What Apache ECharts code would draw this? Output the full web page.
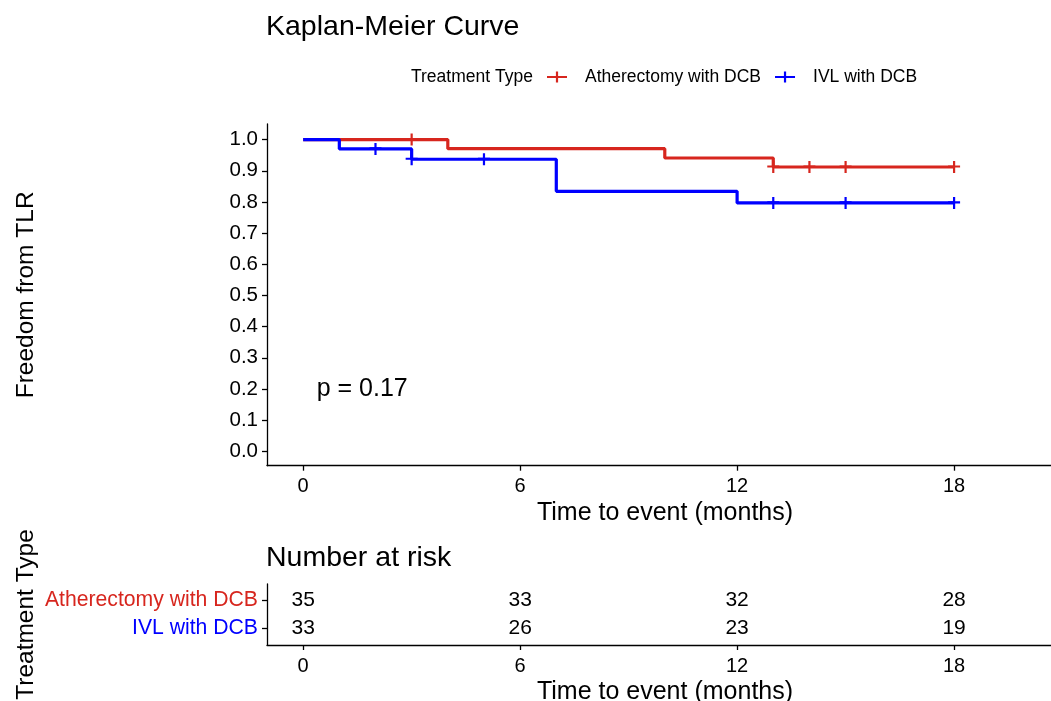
<!DOCTYPE html>
<html>
<head>
<meta charset="utf-8">
<script src="https://cdn.jsdelivr.net/npm/echarts@6/dist/echarts.min.js"></script>
<style>
html,body{margin:0;padding:0;background:#fff;}
#chart{width:1051px;height:701px;}
</style>
</head>
<body>
<div id="chart"></div>
<script>
// ---- data ----
const groupNames = ['Atherectomy with DCB', 'IVL with DCB'];
const groupColors = ['#d7261e', '#0000ff'];

const atherTimes = [0, 4, 10, 13, 18];
const atherSurv  = [1.0, 0.971, 0.941, 0.912, 0.912];
const atherCensorTimes = [3, 13, 14, 15, 18];
const atherCensorSurv  = [1.0, 0.912, 0.912, 0.912, 0.912];

const ivlTimes = [0, 1, 3, 7, 12, 18];
const ivlSurv  = [1.0, 0.970, 0.937, 0.834, 0.797, 0.797];
const ivlCensorTimes = [2, 3, 5, 13, 15, 18];
const ivlCensorSurv  = [0.970, 0.937, 0.937, 0.797, 0.797, 0.797];

const xTicks = [0, 6, 12, 18];
const yTicks = [0, 0.1, 0.2, 0.3, 0.4, 0.5, 0.6, 0.7, 0.8, 0.9, 1.0];

const riskTimes = [0, 6, 12, 18];
const riskAther = [35, 33, 32, 28];
const riskIVL   = [33, 26, 23, 19];

const pValueText = 'p = 0.17';

// ---- helpers ----
const FONT = "'Liberation Sans', Arial, Helvetica, sans-serif";
const zip = (a, b) => a.map((v, i) => [v, b[i]]);
const plusPath = 'path://M0,4.4H12V6.6H0Z M4.9,0H7.1V12H4.9Z';
const legendPath = 'path://M0,4.4H20V6.6H0Z M8.9,0H11.1V11H8.9Z';

const chart = echarts.init(document.getElementById('chart'), null, {renderer: 'canvas'});

const axisLineStyle = {color: '#000', width: 1.3};
const xAxisCommon = {
  type: 'value', min: -1, max: 20.68,
  splitLine: {show: false},
  axisLine: {show: true, onZero: false, lineStyle: axisLineStyle},
  axisTick: {show: true, length: 5, lineStyle: axisLineStyle, customValues: xTicks},
  axisLabel: {show: true, customValues: xTicks, color: '#000', fontSize: 20, fontFamily: FONT, margin: 11},
  name: 'Time to event (months)', nameLocation: 'middle', nameGap: 35,
  nameTextStyle: {color: '#000', fontSize: 25, fontFamily: FONT, padding: [0, 0, 0, 12]}
};

const riskSeries = (vals, rowVal) => ({
  type: 'scatter', xAxisIndex: 1, yAxisIndex: 1,
  data: riskTimes.map((t, i) => [t, rowVal, vals[i]]),
  symbolSize: 1,
  itemStyle: {color: 'rgba(0,0,0,0)', opacity: 1},
  label: {show: true, position: 'inside', formatter: p => String(p.data[2]),
          color: '#000', fontSize: 21, fontFamily: FONT, textBorderWidth: 0},
  silent: true
});

const option = {
  animation: false,
  backgroundColor: '#fff',
  title: [
    {text: 'Kaplan-Meier Curve', left: 266, top: 13, padding: 0,
     textStyle: {color: '#000', fontSize: 28.5, fontWeight: 'normal', fontFamily: FONT}},
    {text: 'Number at risk', left: 266, top: 544, padding: 0,
     textStyle: {color: '#000', fontSize: 28.5, fontWeight: 'normal', fontFamily: FONT}}
  ],
  legend: {
    left: 547, top: 68, padding: 0,
    itemWidth: 20, itemHeight: 11, itemGap: 14,
    selectedMode: false,
    data: [
      {name: groupNames[0], icon: legendPath, itemStyle: {color: groupColors[0]}},
      {name: groupNames[1], icon: legendPath, itemStyle: {color: groupColors[1]}}
    ],
    textStyle: {color: '#000', fontSize: 17.5, fontFamily: FONT, padding: [0, 0, 0, 13]}
  },
  graphic: [
    {type: 'text', left: 411, top: 68,
     style: {text: 'Treatment Type', fill: '#000', font: '17.5px ' + FONT}}
  ],
  grid: [
    {left: 267, top: 124, width: 784, height: 341.7, containLabel: false, outerBoundsMode: 'none'},
    {left: 267, top: 584, width: 784, height: 61, containLabel: false, outerBoundsMode: 'none'}
  ],
  xAxis: [
    Object.assign({gridIndex: 0}, xAxisCommon),
    Object.assign({gridIndex: 1}, xAxisCommon)
  ],
  yAxis: [
    {
      gridIndex: 0, type: 'value', min: -0.046, max: 1.05,
      splitLine: {show: false},
      axisLine: {show: true, onZero: false, lineStyle: axisLineStyle},
      axisTick: {show: true, length: 5, lineStyle: axisLineStyle, customValues: yTicks},
      axisLabel: {show: true, customValues: yTicks, formatter: v => v.toFixed(1),
                  color: '#000', fontSize: 20.5, fontFamily: FONT, margin: 9},
      name: 'Freedom from TLR', nameLocation: 'middle', nameGap: 228, nameMoveOverlap: false,
      nameTextStyle: {color: '#000', fontSize: 24.5, fontFamily: FONT}
    },
    {
      gridIndex: 1, type: 'value', min: 0.4, max: 2.6,
      splitLine: {show: false},
      axisLine: {show: true, onZero: false, lineStyle: axisLineStyle},
      axisTick: {show: true, length: 5, lineStyle: axisLineStyle, customValues: [1, 2]},
      axisLabel: {show: true, customValues: [1, 2], margin: 9,
                  formatter: v => v === 2 ? '{a|' + groupNames[0] + '}' : '{b|' + groupNames[1] + '}',
                  rich: {
                    a: {color: groupColors[0], fontSize: 21.2, fontFamily: FONT},
                    b: {color: groupColors[1], fontSize: 21.2, fontFamily: FONT}
                  }},
      name: 'Treatment Type', nameLocation: 'middle', nameGap: 228, nameMoveOverlap: false,
      nameTextStyle: {color: '#000', fontSize: 24.5, fontFamily: FONT}
    }
  ],
  series: [
    {
      name: groupNames[0], type: 'line', step: 'end', xAxisIndex: 0, yAxisIndex: 0,
      data: zip(atherTimes, atherSurv), showSymbol: false, symbol: 'none',
      lineStyle: {color: groupColors[0], width: 3.2}, itemStyle: {color: groupColors[0]}, silent: true
    },
    {
      name: groupNames[0], type: 'scatter', xAxisIndex: 0, yAxisIndex: 0,
      data: zip(atherCensorTimes, atherCensorSurv), symbol: plusPath, symbolSize: 12,
      itemStyle: {color: groupColors[0], opacity: 1}, silent: true
    },
    {
      name: groupNames[1], type: 'line', step: 'end', xAxisIndex: 0, yAxisIndex: 0,
      data: zip(ivlTimes, ivlSurv), showSymbol: false, symbol: 'none',
      lineStyle: {color: groupColors[1], width: 3.2}, itemStyle: {color: groupColors[1]}, silent: true
    },
    {
      name: groupNames[1], type: 'scatter', xAxisIndex: 0, yAxisIndex: 0,
      data: zip(ivlCensorTimes, ivlCensorSurv), symbol: plusPath, symbolSize: 12,
      itemStyle: {color: groupColors[1], opacity: 1}, silent: true
    },
    {
      type: 'scatter', xAxisIndex: 0, yAxisIndex: 0,
      data: [[0.36, 0.2]], symbolSize: 1, itemStyle: {color: 'rgba(0,0,0,0)', opacity: 1},
      label: {show: true, position: 'right', distance: 0, formatter: pValueText,
              color: '#000', fontSize: 25, fontFamily: FONT, textBorderWidth: 0},
      silent: true
    },
    riskSeries(riskAther, 2),
    riskSeries(riskIVL, 1)
  ]
};

chart.setOption(option);
</script>
</body>
</html>
